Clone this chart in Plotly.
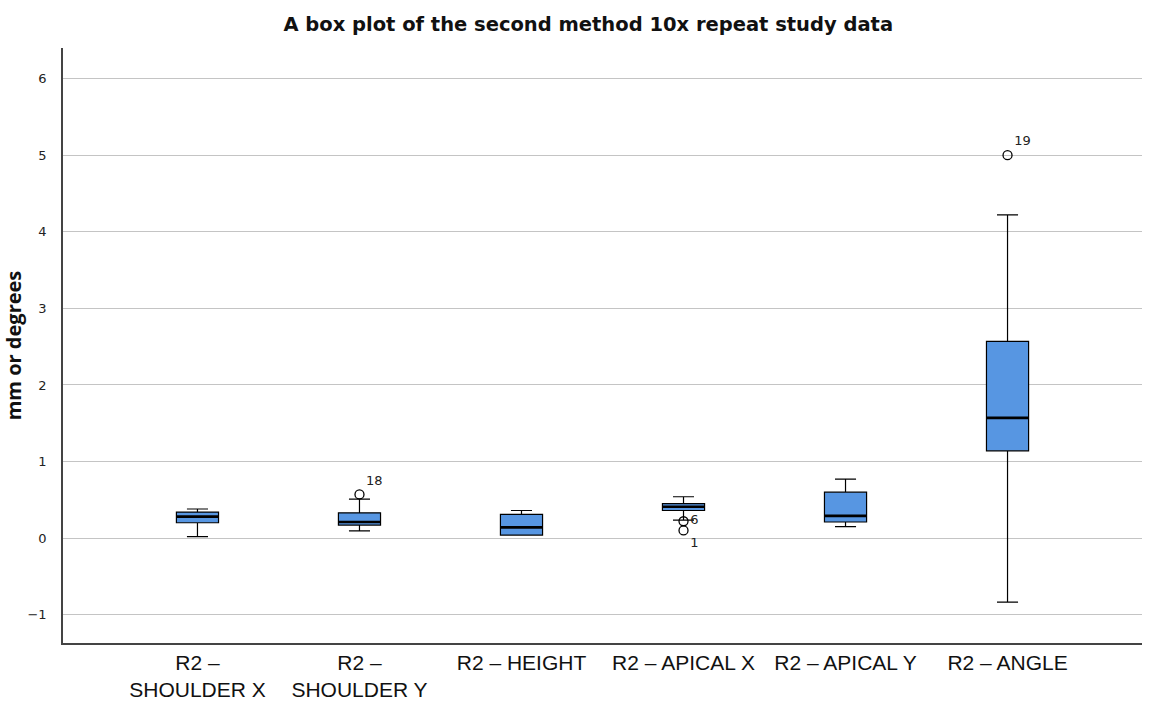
import plotly.graph_objects as go

categories = ["R2 –<br>SHOULDER X", "R2 –<br>SHOULDER Y", "R2 – HEIGHT",
              "R2 – APICAL X", "R2 – APICAL Y", "R2 – ANGLE"]
lower_whisker = [0.02, 0.095, 0.04, 0.235, 0.15, -0.835]
q1 = [0.20, 0.17, 0.04, 0.36, 0.21, 1.14]
median = [0.28, 0.21, 0.14, 0.41, 0.29, 1.57]
q3 = [0.34, 0.33, 0.31, 0.45, 0.60, 2.57]
upper_whisker = [0.38, 0.51, 0.36, 0.54, 0.77, 4.22]

outlier_cat = [1, 3, 3, 5]
outlier_val = [0.57, 0.22, 0.10, 5.00]
outlier_label = ["18", "6", "1", "19"]
outlier_textpos = ["top right", "middle right", "bottom right", "top right"]

y_ticks = [-1, 0, 1, 2, 3, 4, 5, 6]

box_width = 0.26
xs = list(range(len(categories)))

fig = go.Figure()
fig.add_trace(go.Box(
    x=xs, q1=q1, median=median, q3=q3,
    lowerfence=lower_whisker, upperfence=upper_whisker,
    width=box_width, whiskerwidth=0.5,
    fillcolor="#5796e2", line=dict(color="black", width=1.2),
    boxpoints=False, showlegend=False, hoverinfo="skip",
))

# thicker median lines
mx, my = [], []
for i, m in zip(xs, median):
    mx += [i - box_width / 2, i + box_width / 2, None]
    my += [m, m, None]
fig.add_trace(go.Scatter(x=mx, y=my, mode="lines",
                         line=dict(color="black", width=2.6),
                         showlegend=False, hoverinfo="skip"))

fig.add_trace(go.Scatter(
    x=outlier_cat, y=outlier_val, mode="markers+text",
    text=outlier_label, textposition=outlier_textpos,
    textfont=dict(family="DejaVu Sans", size=13, color="#222"),
    marker=dict(symbol="circle-open", size=9, color="black",
                line=dict(width=1.3, color="black")),
    showlegend=False, hoverinfo="skip",
))

fig.update_layout(
    width=1158, height=706,
    margin=dict(l=63, r=16, t=48, b=63, autoexpand=False),
    paper_bgcolor="white", plot_bgcolor="white",
    title=dict(text="<b>A box plot of the second method 10x repeat study data</b>",
               x=0.508, xanchor="center", y=0.966, yanchor="middle",
               font=dict(family="DejaVu Sans", size=19.5, color="#111")),
)
fig.update_xaxes(
    range=[-0.83, 5.83], tickmode="array", tickvals=xs, ticktext=categories,
    showgrid=False, zeroline=False, showline=True, linecolor="#444", linewidth=1.5,
    ticks="", automargin=False,
    tickfont=dict(family="Liberation Sans Narrow, Liberation Sans", size=21, color="#111"),
)
fig.update_yaxes(
    range=[-1.37, 6.40], tickmode="array", tickvals=y_ticks,
    showgrid=True, gridcolor="#c4c4c4", gridwidth=1, zeroline=False,
    showline=True, linecolor="#444", linewidth=1.5, ticks="", automargin=False,
    ticklabelstandoff=12,
    tickfont=dict(family="DejaVu Sans", size=13, color="#222"),
    title=dict(text="<b>mm or degrees</b>", standoff=8,
               font=dict(family="Open Sans", size=20, color="#111")),
)

fig.write_html("out.html")
